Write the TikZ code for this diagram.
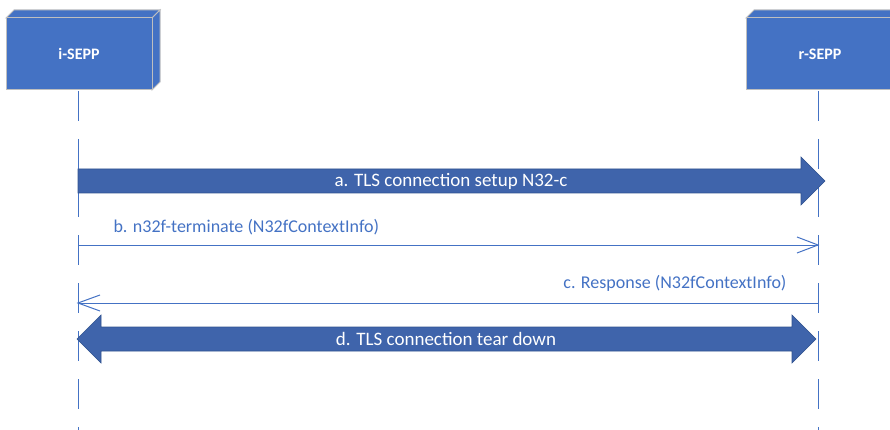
\documentclass[tikz,border=0pt]{standalone}
\usepackage{fontspec}
\setmainfont{Carlito}
\usetikzlibrary{calc}
\definecolor{boxblue}{HTML}{4472C4}
\definecolor{arrblue}{HTML}{3F64AB}
\definecolor{arredge}{HTML}{2F528F}
\definecolor{boxedge}{HTML}{BFBFBF}
\tikzset{
  entity/.style={fill=boxblue,draw=boxedge,line width=1pt,line join=miter},
  entlabel/.style={text=white,font=\fontsize{16}{18}\selectfont\bfseries},
  lifeline/.style={draw=boxblue,line width=1pt,dash pattern=on 30pt off 18pt},
  blockarrow/.style={fill=arrblue,draw=arredge,line width=0.6pt},
  blocklabel/.style={text=white,font=\fontsize{19}{22}\selectfont},
  msg/.style={draw=boxblue,line width=1pt},
  msglabel/.style={text=boxblue,font=\fontsize{18}{20}\selectfont},
}
\begin{document}
\begin{tikzpicture}[x=1pt,y=-1pt]
\useasboundingbox (0,0) rectangle (890,430);
% entities
\path[entity] (6,18) -- (14,10) -- (160,10) -- (152,18) -- cycle;
\path[entity] (152,18) -- (160,10) -- (160,82) -- (152,90) -- cycle;
\path[entity] (6,18) rectangle (152,90);
\node[entlabel] (isepp) at (79,54) {i-SEPP};
\path[entity] (746,18) -- (754,10) -- (900,10) -- (892,18) -- cycle;
\path[entity] (746,18) rectangle (892,90);
\node[entlabel] (rsepp) at (820,54) {r-SEPP};
% lifelines
\coordinate (ltop) at (78,91);
\coordinate (lbot) at (78,430);
\coordinate (rtop) at (818,91);
\coordinate (rbot) at (818,430);
\draw[lifeline] (ltop) -- (lbot);
\draw[lifeline] (rtop) -- (rbot);
% a. block arrow
\path[blockarrow] (78,169) -- (801,169) -- (801,157) -- (825,181) -- (801,205) -- (801,193) -- (78,193) -- cycle;
\node[blocklabel] (alabel) at (451,181) {a. TLS connection setup N32-c};
% b. message
\coordinate (bl) at (78,245);
\coordinate (br) at (818,245);
\draw[msg] (bl) -- (br);
\draw[msg] ($(br)+(-21,-8)$) -- (br) -- ($(br)+(-21,8)$);
\node[msglabel,anchor=west] (blabel) at (110,227) {b. n32f-terminate (N32fContextInfo)};
% c. message
\coordinate (cl) at (78,303);
\coordinate (cr) at (818,303);
\draw[msg] (cr) -- (cl);
\draw[msg] ($(cl)+(22,-8)$) -- (cl) -- ($(cl)+(22,8)$);
\node[msglabel,anchor=east] (clabel) at (790,283) {c. Response (N32fContextInfo)};
% d. double block arrow
\path[blockarrow] (77,339) -- (101,315) -- (101,327) -- (792,327) -- (792,315) -- (816,339) -- (792,363) -- (792,351) -- (101,351) -- (101,363) -- cycle;
\node[blocklabel] (dlabel) at (446,339) {d. TLS connection tear down};
\end{tikzpicture}
\end{document}
